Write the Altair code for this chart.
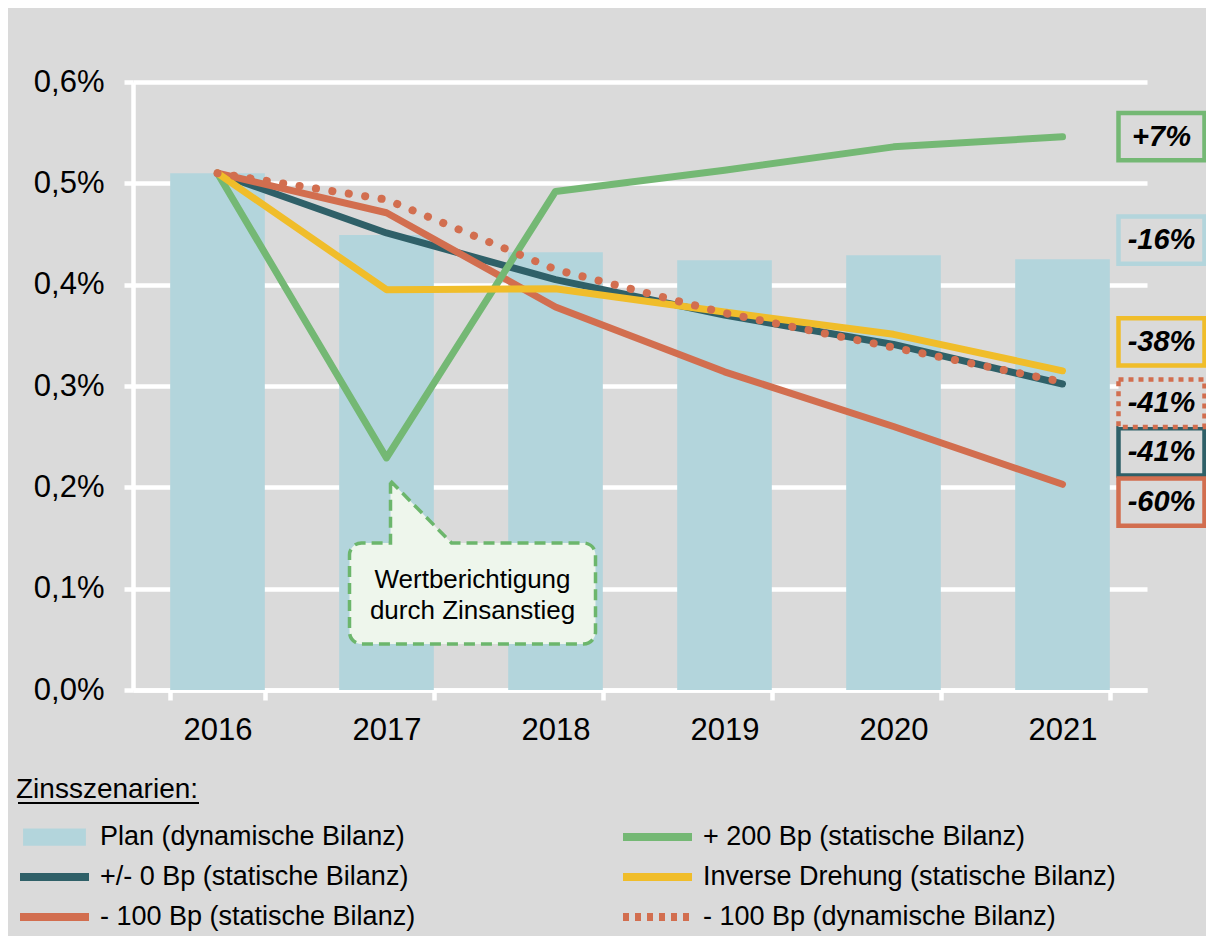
import altair as alt
import pandas as pd

# ---------------- data ----------------
years = ["2016", "2017", "2018", "2019", "2020", "2021"]
plan = [0.510, 0.449, 0.432, 0.424, 0.429, 0.425]

s_zero = [0.510, 0.451, 0.405, 0.370, 0.341, 0.302]
s_m100 = [0.510, 0.471, 0.378, 0.314, 0.260, 0.203]
s_p200 = [0.510, 0.229, 0.492, 0.513, 0.536, 0.546]
s_inv = [0.510, 0.395, 0.396, 0.373, 0.351, 0.315]
s_m100_dyn = [0.510, 0.484, 0.415, 0.372, 0.338, 0.304]

series_names = [
    "Plan (dynamische Bilanz)",
    "+ 200 Bp (statische Bilanz)",
    "+/- 0 Bp (statische Bilanz)",
    "Inverse Drehung (statische Bilanz)",
    "- 100 Bp (statische Bilanz)",
    "- 100 Bp (dynamische Bilanz)",
]
series_colors = ["#b3d5dc", "#74b874", "#2f6068", "#f0bd2a", "#d26e4f", "#d26e4f"]

# right-hand change labels
label_texts = ["+7%", "-16%", "-38%", "-41%", "-41%", "-60%"]
label_series = [series_names[1], series_names[0], series_names[3],
                series_names[5], series_names[2], series_names[4]]
label_anchor = [0.546, 0.444, 0.3435, 0.283, 0.235, 0.1855]

callout_lines = ["Wertberichtigung", "durch Zinsanstieg"]

BG = "#dadada"
FONT = "Liberation Sans"

# ---------------- tables ----------------
df_plan = pd.DataFrame({"year": years, "value": plan})
solid = [(series_names[2], s_zero), (series_names[4], s_m100),
         (series_names[1], s_p200), (series_names[3], s_inv)]
df_lines = pd.DataFrame([
    {"year": y, "value": v, "series": n} for n, vals in solid for y, v in zip(years, vals)
])
df_dyn = pd.DataFrame({"year": years, "value": s_m100_dyn})
df_labels = pd.DataFrame({"year": "2021", "value": label_anchor,
                          "text": label_texts, "series": label_series})
df_labels_solid = df_labels[df_labels["series"] != series_names[5]]
df_labels_dot = df_labels[df_labels["series"] == series_names[5]]
df_legend = pd.DataFrame({"year": "2016", "value": 0.0, "series": series_names})
df_callout = pd.DataFrame({"year": [years[1]], "value": [s_p200[1]]})

x_enc = alt.X("year:N", sort=years, scale=alt.Scale(domain=years, paddingInner=0.44, paddingOuter=0.22),
              axis=alt.Axis(title=None, labelAngle=0, tickBand="extent", grid=False))
y_enc = alt.Y("value:Q", scale=alt.Scale(domain=[0, 0.6], nice=False),
              axis=alt.Axis(title=None, values=[0, 0.1, 0.2, 0.3, 0.4, 0.5, 0.6],
                            labelExpr="replace(format(datum.value, '.1f'), '.', ',') + '%'",
                            grid=True))

# colour scale for lines / boxes (domain listed in drawing order)
draw_order = [series_names[i] for i in (2, 4, 1, 3, 0, 5)]
color_scale = alt.Scale(domain=draw_order, range=[series_colors[series_names.index(n)] for n in draw_order])

bars = alt.Chart(df_plan).mark_bar(color=series_colors[0]).encode(x=x_enc, y=y_enc)

lines = alt.Chart(df_lines).mark_line(strokeWidth=7, strokeCap="round", strokeJoin="round").encode(
    x=alt.X("year:N", sort=years),
    y="value:Q",
    color=alt.Color("series:N", scale=color_scale, legend=None),
)

dyn = alt.Chart(df_dyn).mark_line(strokeWidth=8, strokeCap="round", strokeDash=[0.1, 16.5],
                                  color=series_colors[5]).encode(
    x=alt.X("year:N", sort=years), y="value:Q")

# change label boxes
box_path = "M-1,-0.55H1V0.55H-1Z"
box_props = dict(shape=box_path, size=7396, filled=False, fill=BG, fillOpacity=1,
                 opacity=1, strokeWidth=4.5, xOffset=99)
boxes = alt.Chart(df_labels_solid).mark_point(**box_props).encode(
    x=alt.X("year:N", sort=years), y="value:Q",
    color=alt.Color("series:N", scale=color_scale, legend=None),
)
box_dot = alt.Chart(df_labels_dot).mark_point(strokeDash=[5, 5], **box_props).encode(
    x=alt.X("year:N", sort=years), y="value:Q",
    color=alt.Color("series:N", scale=color_scale, legend=None),
)
box_text = alt.Chart(df_labels).mark_text(font=FONT, fontSize=29, fontWeight="bold", fontStyle="italic",
                                          color="black", xOffset=99, align="center",
                                          baseline="middle").encode(
    x=alt.X("year:N", sort=years), y="value:Q", text="text:N")

# callout bubble
callout_path = ("M0.04,0.23 L0.65,0.85 H1.97 A0.12,0.12 0 0 1 2.09,0.97 V1.74 "
                "A0.12,0.12 0 0 1 1.97,1.86 H-0.25 A0.12,0.12 0 0 1 -0.37,1.74 V0.97 "
                "A0.12,0.12 0 0 1 -0.25,0.85 H0.04 Z")
callout = alt.Chart(df_callout).mark_point(shape=callout_path, size=40000, filled=False, fill="#eef6ec",
                                           fillOpacity=1, opacity=1, stroke="#6cb66c", strokeWidth=3.5,
                                           strokeDash=[11, 6]).encode(
    x=alt.X("year:N", sort=years), y="value:Q")
callout_text = alt.Chart(df_callout).mark_text(font=FONT, fontSize=26, color="black", align="center",
                                               baseline="middle", lineHeight=31, xOffset=86,
                                               yOffset=122).encode(
    x=alt.X("year:N", sort=years), y="value:Q", text=alt.value(callout_lines))

# legend (drawn by the library from the series domain); entries fill column by column
legend_order = [series_names[i] for i in (0, 2, 4, 1, 3, 5)]
legend_colors = [series_colors[series_names.index(n)] for n in legend_order]
leg = alt.Legend(title="Zinsszenarien:", orient="none", legendX=-117, legendY=694, columns=2,
                 columnPadding=203, rowPadding=10, clipHeight=30, symbolSize=4761,
                 symbolStrokeWidth=8, labelOffset=7, padding=0, titlePadding=18, titleLimit=500)
shape_range = ["M-0.91,-0.25H0.91V0.25H-0.91Z" if n == series_names[0] else "M-1,0H1" for n in legend_order]
stroke_range = ["transparent" if n == series_names[0] else c for n, c in zip(legend_order, legend_colors)]
dash_range = [[6, 6] if n == series_names[5] else [1, 0] for n in legend_order]
legend_layer = alt.Chart(df_legend).transform_filter("false").mark_point(filled=True, opacity=1).encode(
    x=alt.X("year:N", sort=years), y="value:Q",
    fill=alt.Fill("series:N", scale=alt.Scale(domain=legend_order, range=legend_colors), legend=leg),
    stroke=alt.Stroke("series:N", scale=alt.Scale(domain=legend_order, range=stroke_range), legend=leg),
    shape=alt.Shape("series:N", scale=alt.Scale(domain=legend_order, range=shape_range), legend=leg),
    strokeDash=alt.StrokeDash("series:N", scale=alt.Scale(domain=legend_order, range=dash_range), legend=leg),
)

underline = alt.Chart(df_callout).mark_rule(color="black", strokeWidth=2).encode(
    x=alt.value(-115), x2=alt.value(66), y=alt.value(721))

chart = alt.layer(bars, lines, dyn, callout, callout_text, boxes, box_dot, box_text,
                  legend_layer, underline).properties(
    width=1014, height=608,
    autosize=alt.AutoSizeParams(type="none"),
    padding={"left": 125, "top": 74, "right": 59, "bottom": 246},
    background=BG,
).configure_view(stroke=None).configure_axis(
    labelFont=FONT, labelFontSize=31, labelColor="black",
    domainColor="white", domainWidth=4.5, tickColor="white", tickWidth=4.5,
    gridColor="white", gridWidth=4.5,
).configure_axisX(tickSize=10, labelPadding=15).configure_axisY(
    tickSize=9, labelPadding=20
).configure_legend(
    labelFont=FONT, labelFontSize=27, labelColor="black", titleFont=FONT, titleFontSize=28,
    titleFontWeight="normal", titleColor="black", labelLimit=600,
).configure_text(font=FONT)

chart.save("out.html", embed_options={"renderer": "svg", "actions": False})
